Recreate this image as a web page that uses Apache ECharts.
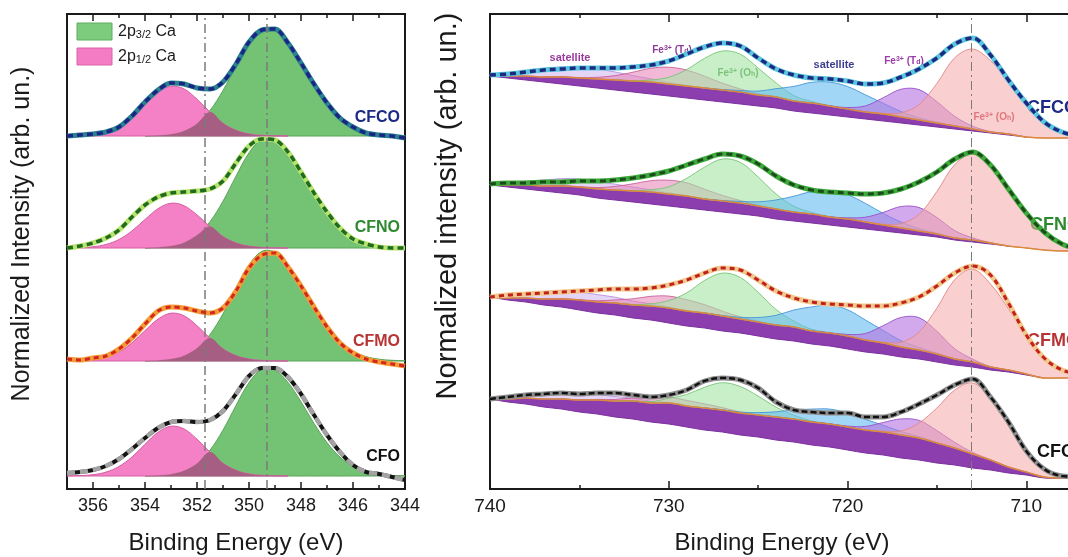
<!DOCTYPE html>
<html>
<head>
<meta charset="utf-8">
<script src="https://cdn.jsdelivr.net/npm/echarts@6/dist/echarts.min.js"></script>
<style>
  html, body { margin: 0; padding: 0; background: #fff; }
  #chart { width: 1068px; height: 557px; }
</style>
</head>
<body>
<div id="chart"></div>
<script>
var samples = ['CFCO', 'CFNO', 'CFMO', 'CFO'];

// ---------- left panel: Ca 2p, binding energy grid (eV) ----------
var eCa = [357, 356.5, 356, 355.5, 355, 354.5, 354, 353.5, 353, 352.5, 352, 351.5, 351,
  350.5, 350, 349.5, 349, 348.5, 348, 347.5, 347, 346.5, 346, 345.5, 345, 344.5, 344];
var caBase = [353, 241, 128, 13];
var caLines = [351.7, 349.3];

var caDataCFCO = [353, 354, 355, 357, 362, 373, 387, 399, 406, 405, 401, 400, 407, 425, 447, 459, 460, 446, 426, 405, 386, 371, 362, 356, 354, 353, 351];
var caDataCFNO = [241, 243, 246, 251, 259, 272, 284, 292, 296, 297, 298, 300, 308, 326, 343, 350, 349, 337, 317, 296, 277, 261, 250, 245, 242, 241, 241];
var caDataCFMO = [130, 129, 131, 133, 140, 151, 165, 178, 182, 181, 178, 176, 181, 198, 221, 234, 236, 222, 203, 182, 162, 146, 136, 130, 127, 125, 123];
var caDataCFO = [16, 17, 19, 23, 30, 40, 51, 61, 67, 68, 67, 69, 78, 95, 113, 121, 121, 112, 95, 74, 54, 37, 24, 17, 15, 12, 9];

// 2p3/2 (green) and 2p1/2 (pink) heights above each baseline
var caGreenCFCO = [0, 0, 0, 0, 0, 0, 0, 0.5, 1.8, 5.1, 12.3, 25.6, 45.5, 69.9, 92.6, 105.7, 104.9, 92.8, 73.5, 52.1, 33.1, 18.7, 9.5, 4.3, 1.7, 0.6, 0.2];
var caGreenCFNO = [0, 0, 0, 0, 0, 0, 0, 0.6, 1.9, 5.3, 12.7, 26.3, 46.8, 71.8, 95.2, 108.7, 107.8, 95.4, 75.6, 53.6, 34, 19.3, 9.8, 4.4, 1.8, 0.7, 0.2];
var caGreenCFMO = [0, 0, 0, 0, 0, 0, 0, 0.6, 1.9, 5.3, 12.8, 26.5, 47.2, 72.5, 96, 109.7, 108.8, 96.2, 76.3, 54.1, 34.3, 19.4, 9.9, 4.4, 1.8, 0.7, 0.2];
var caGreenCFO = [0, 0, 0, 0, 0, 0, 0, 0.5, 1.8, 5.2, 12.4, 25.8, 45.9, 70.5, 93.4, 106.7, 105.8, 93.6, 74.2, 52.6, 33.4, 18.9, 9.6, 4.3, 1.7, 0.6, 0.2];
var caPinkCFCO = [0.1, 0.4, 1.3, 3.9, 9.5, 19, 31.7, 43.7, 49.8, 47.1, 36.8, 23.9, 12.8, 5.7, 2.1, 0.7, 0.2, 0, 0, 0, 0, 0, 0, 0, 0, 0, 0];
var caPinkCFNO = [0.1, 0.3, 1.2, 3.5, 8.5, 17.1, 28.5, 39.3, 44.8, 42.3, 33.1, 21.5, 11.5, 5.1, 1.9, 0.6, 0.1, 0, 0, 0, 0, 0, 0, 0, 0, 0, 0];
var caPinkCFMO = [0.1, 0.4, 1.2, 3.7, 9.1, 18.2, 30.4, 41.9, 47.8, 45.2, 35.3, 22.9, 12.2, 5.4, 2, 0.6, 0.1, 0, 0, 0, 0, 0, 0, 0, 0, 0, 0];
var caPinkCFO = [0.1, 0.4, 1.3, 3.9, 9.5, 19, 31.7, 43.7, 49.8, 47.1, 36.8, 23.9, 12.8, 5.7, 2.1, 0.7, 0.2, 0, 0, 0, 0, 0, 0, 0, 0, 0, 0];

// ---------- right panel: Fe 2p ----------
var eFe = [740, 739, 738, 737, 736, 735, 734, 733, 732, 731, 730, 729,
  728, 727, 726, 725, 724, 723, 722, 721, 720, 719, 718, 717,
  716, 715, 714, 713, 712, 711, 710, 709, 708, 707, 706, 705];
var feLines = [713.1];

var feDataCFCO = [414, 415, 417, 419, 420, 421, 421, 421, 422, 424, 428, 435,
  442, 446, 443, 431, 420, 414, 411, 410, 408, 405, 406, 412,
  420, 431, 445, 451, 434, 409, 386, 367, 357, 353, 351, 351];
var feDataCFNO = [305, 306, 306, 307, 307, 308, 308, 309, 311, 314, 318, 324,
  330, 335, 333, 325, 313, 304, 299, 297, 296, 295, 296, 300,
  307, 317, 330, 337, 324, 300, 276, 257, 245, 240, 239, 238];
var feDataCFMO = [192, 194, 195, 196, 197, 198, 199, 200, 200, 201, 204, 209,
  216, 221, 219, 209, 198, 191, 187, 185, 184, 183, 183, 186,
  192, 203, 216, 223, 214, 186, 154, 131, 119, 115, 114, 113];
var feDataCFO = [90, 92, 94, 95, 96, 95, 96, 96, 94, 92, 94, 99,
  108, 111, 109, 101, 87, 79, 77, 76, 76, 72, 72, 77,
  85, 94, 104, 110, 92, 67, 38, 20, 13, 12, 11, 11];

// straight background and the extra (purple) background step above it
var feLinCFCO = [413, 411, 409, 407, 405, 403, 401, 399, 397, 395, 393, 391,
  389, 387, 385, 383, 381, 378, 376, 374, 372, 370, 368, 366,
  364, 362, 360, 358, 356, 354, 352, 351, 351, 351, 351, 351];
var feLinCFNO = [304, 302, 300, 298, 296, 294, 291, 289, 287, 285, 283, 281,
  279, 277, 275, 273, 270, 268, 266, 264, 262, 260, 258, 256,
  254, 252, 249, 247, 245, 243, 241, 239, 238, 238, 238, 238];
var feLinCFMO = [192, 189, 187, 184, 182, 179, 176, 174, 171, 169, 166, 163,
  161, 158, 156, 153, 150, 148, 145, 143, 140, 137, 135, 132,
  130, 127, 124, 122, 119, 117, 114, 111, 111, 111, 111, 111];
var feLinCFO = [90, 87, 85, 82, 80, 77, 75, 72, 70, 67, 65, 62,
  59, 57, 54, 52, 49, 47, 44, 42, 39, 36, 34, 31,
  29, 26, 24, 21, 19, 16, 14, 11, 11, 11, 11, 11];
var feStepCFCO = [0, 2, 4, 5, 7, 8, 9, 10, 11, 12, 12, 12,
  12, 12, 12, 11, 11, 10, 10, 9, 8, 7, 7, 6,
  5, 4, 3, 2, 1, 1, 0, 0, 0, 0, 0, 0];
var feStepCFNO = [0, 2, 4, 5, 7, 8, 9, 10, 11, 12, 12, 12,
  11, 11, 11, 10, 10, 9, 9, 8, 8, 7, 6, 5,
  4, 3, 2, 2, 1, 0, 0, 0, 0, 0, 0, 0];
var feStepCFMO = [0, 2, 4, 6, 8, 10, 11, 12, 13, 14, 15, 15,
  15, 15, 14, 14, 14, 14, 13, 13, 13, 12, 11, 10,
  9, 8, 6, 5, 3, 2, 1, 0, 0, 0, 0, 0];
var feStepCFO = [0, 3, 6, 8, 10, 12, 14, 16, 18, 19, 21, 21,
  22, 22, 22, 22, 23, 23, 23, 23, 23, 23, 23, 23,
  22, 20, 17, 14, 10, 6, 3, 1, 0, 0, 0, 0];

// fitted components, heights above the background
var feSat1CFCO = [1.5, 3.1, 5.4, 8, 10.2, 11, 10.2, 8, 5.4, 3.1, 1.5, 0.6,
  0.2, 0.1, 0, 0, 0, 0, 0, 0, 0, 0, 0, 0,
  0, 0, 0, 0, 0, 0, 0, 0, 0, 0, 0, 0];
var feSat1CFNO = [1.1, 2.2, 3.9, 5.8, 7.4, 8, 7.4, 5.8, 3.9, 2.2, 1.1, 0.4,
  0.2, 0, 0, 0, 0, 0, 0, 0, 0, 0, 0, 0,
  0, 0, 0, 0, 0, 0, 0, 0, 0, 0, 0, 0];
var feSat1CFMO = [1.1, 2.2, 3.9, 5.8, 7.4, 8, 7.4, 5.8, 3.9, 2.2, 1.1, 0.4,
  0.2, 0, 0, 0, 0, 0, 0, 0, 0, 0, 0, 0,
  0, 0, 0, 0, 0, 0, 0, 0, 0, 0, 0, 0];
var feSat1CFO = [0.8, 1.7, 2.9, 4.4, 5.5, 6, 5.5, 4.4, 2.9, 1.7, 0.8, 0.3,
  0.1, 0, 0, 0, 0, 0, 0, 0, 0, 0, 0, 0,
  0, 0, 0, 0, 0, 0, 0, 0, 0, 0, 0, 0];

var feTd1CFCO = [0, 0, 0, 0, 0.1, 0.5, 1.7, 4.4, 8.8, 13.8, 16.8, 16,
  11.8, 6.8, 3.1, 1.1, 0.3, 0.1, 0, 0, 0, 0, 0, 0,
  0, 0, 0, 0, 0, 0, 0, 0, 0, 0, 0, 0];
var feTd1CFNO = [0, 0, 0, 0, 0.1, 0.4, 1.4, 3.6, 7.2, 11.3, 13.8, 13.2,
  9.8, 5.6, 2.5, 0.9, 0.2, 0.1, 0, 0, 0, 0, 0, 0,
  0, 0, 0, 0, 0, 0, 0, 0, 0, 0, 0, 0];
var feTd1CFMO = [0, 0, 0, 0, 0.1, 0.4, 1.2, 3.1, 6.2, 9.7, 11.9, 11.3,
  8.4, 4.8, 2.2, 0.8, 0.2, 0, 0, 0, 0, 0, 0, 0,
  0, 0, 0, 0, 0, 0, 0, 0, 0, 0, 0, 0];
var feTd1CFO = [0, 0, 0, 0, 0, 0.2, 0.6, 1.5, 3.1, 4.9, 5.9, 5.6,
  4.2, 2.4, 1.1, 0.4, 0.1, 0, 0, 0, 0, 0, 0, 0,
  0, 0, 0, 0, 0, 0, 0, 0, 0, 0, 0, 0];

var feOh1CFCO = [0, 0, 0, 0, 0, 0, 0, 0, 0.4, 2, 6.7, 16.4,
  29.6, 39, 37.8, 27, 14.1, 5.4, 1.5, 0.3, 0, 0, 0, 0,
  0, 0, 0, 0, 0, 0, 0, 0, 0, 0, 0, 0];
var feOh1CFNO = [0, 0, 0, 0, 0, 0, 0, 0, 0.5, 2.2, 7.2, 17.7,
  31.8, 42, 40.7, 29, 15.1, 5.8, 1.6, 0.3, 0, 0, 0, 0,
  0, 0, 0, 0, 0, 0, 0, 0, 0, 0, 0, 0];
var feOh1CFMO = [0, 0, 0, 0, 0, 0, 0, 0, 0.5, 2.2, 7.4, 18.1,
  32.5, 42.9, 41.6, 29.7, 15.5, 5.9, 1.7, 0.4, 0, 0, 0, 0,
  0, 0, 0, 0, 0, 0, 0, 0, 0, 0, 0, 0];
var feOh1CFO = [0, 0, 0, 0, 0, 0, 0, 0, 0.3, 1.4, 4.7, 11.5,
  20.7, 27.3, 26.5, 18.9, 9.9, 3.8, 1.1, 0.2, 0, 0, 0, 0,
  0, 0, 0, 0, 0, 0, 0, 0, 0, 0, 0, 0];

var feSat2CFCO = [0, 0, 0, 0, 0, 0, 0, 0, 0, 0, 0, 0,
  0, 0.5, 1.5, 3.9, 8.3, 14.6, 20.7, 23.9, 22.5, 17.2, 10.7, 5.4,
  2.2, 0.7, 0.2, 0, 0, 0, 0, 0, 0, 0, 0, 0];
var feSat2CFNO = [0, 0, 0, 0, 0, 0, 0, 0, 0, 0, 0, 0,
  0, 0.5, 1.6, 4.2, 9, 15.8, 22.4, 25.9, 24.3, 18.6, 11.6, 5.9,
  2.4, 0.8, 0.2, 0, 0, 0, 0, 0, 0, 0, 0, 0];
var feSat2CFMO = [0, 0, 0, 0, 0, 0, 0, 0, 0, 0, 0, 0,
  0, 0.5, 1.7, 4.5, 9.7, 17, 24.1, 27.9, 26.2, 20, 12.5, 6.3,
  2.6, 0.9, 0.2, 0, 0, 0, 0, 0, 0, 0, 0, 0];
var feSat2CFO = [0, 0, 0, 0, 0, 0, 0, 0, 0, 0, 0, 0,
  0, 0.3, 0.9, 2.4, 5.2, 9.1, 12.9, 14.9, 14, 10.7, 6.7, 3.4,
  1.4, 0.5, 0.1, 0, 0, 0, 0, 0, 0, 0, 0, 0];

var feTd2CFCO = [0, 0, 0, 0, 0, 0, 0, 0, 0, 0, 0, 0,
  0, 0, 0, 0, 0, 0, 0, 0.2, 1.5, 6.1, 16.3, 27.8,
  30.4, 21.3, 9.6, 2.8, 0.5, 0.1, 0, 0, 0, 0, 0, 0];
var feTd2CFNO = [0, 0, 0, 0, 0, 0, 0, 0, 0, 0, 0, 0,
  0, 0, 0, 0, 0, 0, 0, 0.2, 1.2, 4.8, 12.6, 21.5,
  23.5, 16.5, 7.4, 2.1, 0.4, 0, 0, 0, 0, 0, 0, 0];
var feTd2CFMO = [0, 0, 0, 0, 0, 0, 0, 0, 0, 0, 0, 0,
  0, 0, 0, 0, 0, 0, 0, 0.2, 1.6, 6.5, 17.4, 29.6,
  32.3, 22.7, 10.2, 2.9, 0.5, 0.1, 0, 0, 0, 0, 0, 0];
var feTd2CFO = [0, 0, 0, 0, 0, 0, 0, 0, 0, 0, 0, 0,
  0, 0, 0, 0, 0, 0, 0, 0.1, 0.9, 3.6, 9.5, 16.1,
  17.6, 12.4, 5.6, 1.6, 0.3, 0, 0, 0, 0, 0, 0, 0];

var feOh2CFCO = [0, 0, 0, 0, 0, 0, 0, 0, 0, 0, 0, 0,
  0, 0, 0, 0, 0, 0, 0, 0, 0, 0, 0.7, 4.1,
  15.4, 39.5, 68.3, 79.9, 71.4, 52.7, 32.2, 16.3, 6.9, 2.4, 0.7, 0.2];
var feOh2CFNO = [0, 0, 0, 0, 0, 0, 0, 0, 0, 0, 0, 0,
  0, 0, 0, 0, 0, 0, 0, 0, 0, 0, 0.8, 4.4,
  16.6, 42.5, 73.4, 85.9, 76.7, 56.7, 34.7, 17.5, 7.4, 2.6, 0.7, 0.2];
var feOh2CFMO = [0, 0, 0, 0, 0, 0, 0, 0, 0, 0, 0, 0,
  0, 0, 0, 0, 0, 0, 0, 0, 0, 0, 0.8, 4.7,
  17.9, 45.9, 79.4, 92.9, 83, 61.3, 37.5, 19, 8, 2.8, 0.8, 0.2];
var feOh2CFO = [0, 0, 0, 0, 0, 0, 0, 0, 0, 0, 0, 0,
  0, 0, 0, 0, 0, 0, 0, 0, 0, 0, 0.8, 4,
  15, 35, 58, 71, 62, 42, 22, 8, 2, 0.3, 0, 0];

// ---------- build ----------
var FONT = '"Liberation Sans", Arial, Helvetica, sans-serif';
var series = [];

function pts(xs, ys) {
  return xs.map(function (x, k) { return [x, ys[k]]; });
}

// filled band between lower and lower + heights, drawn as one polygon
function addBand(xi, yi, xs, lower, heights, fill, edge) {
  var first = 0, last = xs.length - 1;
  while (first < last && heights[first + 1] <= 0) first++;
  while (last > first && heights[last - 1] <= 0) last--;
  series.push({
    type: 'custom', xAxisIndex: xi, yAxisIndex: yi, silent: true,
    data: [[xs[first], lower[first]]],
    renderItem: function (params, api) {
      var up = [], lo = [];
      for (var k = first; k <= last; k++) {
        up.push(api.coord([xs[k], lower[k] + heights[k]]));
        lo.unshift(api.coord([xs[k], lower[k]]));
      }
      return {
        type: 'polygon',
        shape: { points: up.concat(lo), smooth: 0.35 },
        style: { fill: fill, stroke: edge || null, lineWidth: edge ? 1 : 0 }
      };
    }
  });
}

function addCurve(xi, yi, xs, ys, solid, dash, smooth) {
  series.push({
    type: 'line', xAxisIndex: xi, yAxisIndex: yi, data: pts(xs, ys), symbol: 'none',
    smooth: smooth, silent: true, z: 4, lineStyle: { color: solid[0], width: solid[1] }
  });
  series.push({
    type: 'line', xAxisIndex: xi, yAxisIndex: yi, data: pts(xs, ys), symbol: 'none',
    smooth: smooth, silent: true, z: 5, lineStyle: { color: dash[0], width: dash[1], type: dash[2] }
  });
}

function addVLines(xi, yi, values, width) {
  series.push({
    type: 'line', xAxisIndex: xi, yAxisIndex: yi, data: [], z: 3,
    markLine: {
      silent: true, symbol: 'none', label: { show: false }, animation: false,
      lineStyle: { color: '#7b7b7b', width: width, type: [9, 4, 2, 4] },
      data: values.map(function (v) { return { xAxis: v }; })
    }
  });
}

// left panel
var caData = [caDataCFCO, caDataCFNO, caDataCFMO, caDataCFO];
var caGreen = [caGreenCFCO, caGreenCFNO, caGreenCFMO, caGreenCFO];
var caPink = [caPinkCFCO, caPinkCFNO, caPinkCFMO, caPinkCFO];
var caStyle = [
  [['#2a8190', 5], ['#1b2585', 3.5, [6, 4]]],
  [['#b8e46e', 5], ['#1f6b22', 3.5, [6, 4]]],
  [['#f39c38', 5], ['#d4261c', 3, [5, 4]]],
  [['#141414', 4], ['#a3a3a3', 4.5, [8, 5]]]
];
samples.forEach(function (s, i) {
  var base = eCa.map(function () { return caBase[i]; });
  var overlap = caGreen[i].map(function (g, k) { return Math.min(g, caPink[i][k]); });
  addBand(0, 0, eCa, base, caGreen[i], 'rgba(104,190,104,0.92)', '#58a458');
  addBand(0, 0, eCa, base, caPink[i], 'rgba(243,118,192,0.92)', '#d45ca3');
  addBand(0, 0, eCa, base, overlap, '#a65f82', null);
});
addVLines(0, 0, caLines, 1.5);
samples.forEach(function (s, i) {
  addCurve(0, 0, eCa, caData[i], caStyle[i][0], caStyle[i][1], 0.3);
});

// right panel
var feData = [feDataCFCO, feDataCFNO, feDataCFMO, feDataCFO];
var feLin = [feLinCFCO, feLinCFNO, feLinCFMO, feLinCFO];
var feStep = [feStepCFCO, feStepCFNO, feStepCFMO, feStepCFO];
var feParts = [
  [[feSat1CFCO, feSat1CFNO, feSat1CFMO, feSat1CFO], 'rgba(206,178,238,0.55)', 'rgba(175,135,220,0.8)'],
  [[feTd1CFCO, feTd1CFNO, feTd1CFMO, feTd1CFO], 'rgba(232,128,180,0.55)', 'rgba(200,90,150,0.85)'],
  [[feOh1CFCO, feOh1CFNO, feOh1CFMO, feOh1CFO], 'rgba(165,228,165,0.6)', 'rgba(120,196,120,0.9)'],
  [[feSat2CFCO, feSat2CFNO, feSat2CFMO, feSat2CFO], 'rgba(100,186,240,0.6)', 'rgba(70,150,215,0.9)'],
  [[feTd2CFCO, feTd2CFNO, feTd2CFMO, feTd2CFO], 'rgba(182,112,225,0.6)', 'rgba(150,80,200,0.9)'],
  [[feOh2CFCO, feOh2CFNO, feOh2CFMO, feOh2CFO], 'rgba(246,168,168,0.55)', 'rgba(225,135,135,0.9)']
];
var feStyle = [
  [['#5cc6de', 5], ['#1b2a80', 3.5, [6, 4]]],
  [['#3cab3a', 5], ['#1d4a1d', 3, [6, 4]]],
  [['#f2c98c', 5], ['#c21f1f', 3, [5, 4]]],
  [['#8d8d8d', 5], ['#111111', 2.5, [6, 3]]]
];
samples.forEach(function (s, i) {
  var top = feLin[i].map(function (v, k) { return v + feStep[i][k]; });
  addBand(2, 1, eFe, feLin[i], feStep[i], '#8c3eae', '#7b2f9e');
  feParts.forEach(function (p) {
    addBand(2, 1, eFe, top, p[0][i], p[1], p[2]);
  });
  series.push({
    type: 'line', xAxisIndex: 2, yAxisIndex: 1, data: pts(eFe, top), symbol: 'none',
    smooth: 0.4, silent: true, lineStyle: { color: '#d98a3d', width: 1.5 }
  });
});
addVLines(2, 1, feLines, 1);
samples.forEach(function (s, i) {
  addCurve(2, 1, eFe, feData[i], feStyle[i][0], feStyle[i][1], 0.35);
});

function xAx(grid, pos, min, max, step, labels, tickLen, minor, fontSize) {
  return {
    type: 'value', gridIndex: grid, position: pos, inverse: true,
    min: min, max: max, interval: step,
    axisLine: { show: false },
    axisTick: { show: true, inside: true, length: tickLen, lineStyle: { color: '#1a1a1a', width: 1.5 } },
    minorTick: { show: !!minor, splitNumber: 2, length: 4, lineStyle: { color: '#1a1a1a', width: 1.5 } },
    axisLabel: { show: labels, fontSize: fontSize || 18, color: '#1a1a1a', margin: 8, fontFamily: FONT, showMaxLabel: grid !== 0 },
    splitLine: { show: false }
  };
}

function richSub(color) {
  return {
    u: { fontSize: 7, fontWeight: 'bold', fontFamily: FONT, fill: color, verticalAlign: 'top', lineHeight: 7 },
    s: { fontSize: 7, fontWeight: 'bold', fontFamily: FONT, fill: color, verticalAlign: 'bottom', lineHeight: 7 }
  };
}

function label(x, y, text, font, color, align, rotation, rich) {
  return {
    type: 'text', x: x, y: y, rotation: rotation || 0,
    style: {
      text: text, font: font + ' ' + FONT, fill: color,
      align: align, textAlign: align, verticalAlign: 'middle', textVerticalAlign: 'middle',
      rich: rich
    }
  };
}

var chart = echarts.init(document.getElementById('chart'));
chart.setOption({
  animation: false,
  backgroundColor: '#ffffff',
  grid: [
    { left: 67, right: 663, top: 14, bottom: 68, show: true, borderColor: '#1a1a1a', borderWidth: 2, outerBoundsMode: 'none', containLabel: false },
    { left: 490, right: -137, top: 14, bottom: 68, show: true, borderColor: '#1a1a1a', borderWidth: 2, outerBoundsMode: 'none', containLabel: false },
    { left: 67, right: 663, top: 14, bottom: 68, show: false, outerBoundsMode: 'none', containLabel: false }
  ],
  xAxis: [
    xAx(0, 'bottom', 344, 357, 2, true, 7, false, 18),
    xAx(0, 'top', 344, 357, 2, false, 7, false),
    xAx(1, 'bottom', 700, 740, 10, true, 8, true, 19),
    xAx(1, 'top', 700, 740, 10, false, 8, true),
    xAx(2, 'bottom', 344, 357, 1, false, 4, false),
    xAx(2, 'top', 344, 357, 1, false, 4, false)
  ],
  yAxis: [
    { type: 'value', gridIndex: 0, min: 0, max: 475, show: false },
    { type: 'value', gridIndex: 1, min: 0, max: 475, show: false },
    { type: 'value', gridIndex: 2, min: 0, max: 475, show: false }
  ],
  series: series,
  graphic: [
    // legend
    { type: 'rect', shape: { x: 77, y: 23, width: 35, height: 17 }, style: { fill: '#7dcb7d', stroke: '#5fae5f', lineWidth: 1 } },
    { type: 'rect', shape: { x: 77, y: 48, width: 35, height: 17 }, style: { fill: '#f47cc4', stroke: '#d862a8', lineWidth: 1 } },
    label(118, 32, '2p{s|3/2} Ca', '16px', '#1a1a1a', 'left', 0,
      { s: { fontSize: 11, fontFamily: FONT, fill: '#1a1a1a', verticalAlign: 'bottom', lineHeight: 8 } }),
    label(118, 57, '2p{s|1/2} Ca', '16px', '#1a1a1a', 'left', 0,
      { s: { fontSize: 11, fontFamily: FONT, fill: '#1a1a1a', verticalAlign: 'bottom', lineHeight: 8 } }),
    // axis titles
    label(22, 234, 'Normalized Intensity (arb. un.)', '25px', '#1a1a1a', 'center', Math.PI / 2),
    label(448, 206, 'Normalized intensity (arb. un.)', '29px', '#1a1a1a', 'center', Math.PI / 2),
    label(236, 543, 'Binding Energy (eV)', '24px', '#1a1a1a', 'center'),
    label(782, 543, 'Binding Energy (eV)', '24px', '#1a1a1a', 'center'),
    // sample names, left
    label(400, 118, 'CFCO', 'bold 16px', '#1c2a84', 'right'),
    label(400, 228, 'CFNO', 'bold 16px', '#2e8a2e', 'right'),
    label(400, 342, 'CFMO', 'bold 16px', '#b83434', 'right'),
    label(400, 457, 'CFO', 'bold 16px', '#111111', 'right'),
    // sample names, right (cut by the picture edge)
    label(1027, 108, 'CFCO', 'bold 18px', '#1c2a84', 'left'),
    label(1030, 225, 'CFNO', 'bold 18px', '#2e8a2e', 'left'),
    label(1027, 341, 'CFMO', 'bold 18px', '#b83434', 'left'),
    label(1037, 452, 'CFO', 'bold 18px', '#111111', 'left'),
    // peak names on the top spectrum
    label(570, 58, 'satellite', 'bold 11px', '#9a3b9e', 'center'),
    label(672, 50, 'Fe{u|3+} (T{s|d})', 'bold 10px', '#8e3b9a', 'center', 0, richSub('#8e3b9a')),
    label(738, 73, 'Fe{u|3+} (O{s|h})', 'bold 10px', '#3e8e3e', 'center', 0, richSub('#3e8e3e')),
    label(834, 65, 'satellite', 'bold 11px', '#3d3d92', 'center'),
    label(904, 61, 'Fe{u|3+} (T{s|d})', 'bold 10px', '#9c3ca8', 'center', 0, richSub('#9c3ca8')),
    label(994, 117, 'Fe{u|3+} (O{s|h})', 'bold 10px', '#c23c4a', 'center', 0, richSub('#c23c4a'))
  ]
});
</script>
</body>
</html>
